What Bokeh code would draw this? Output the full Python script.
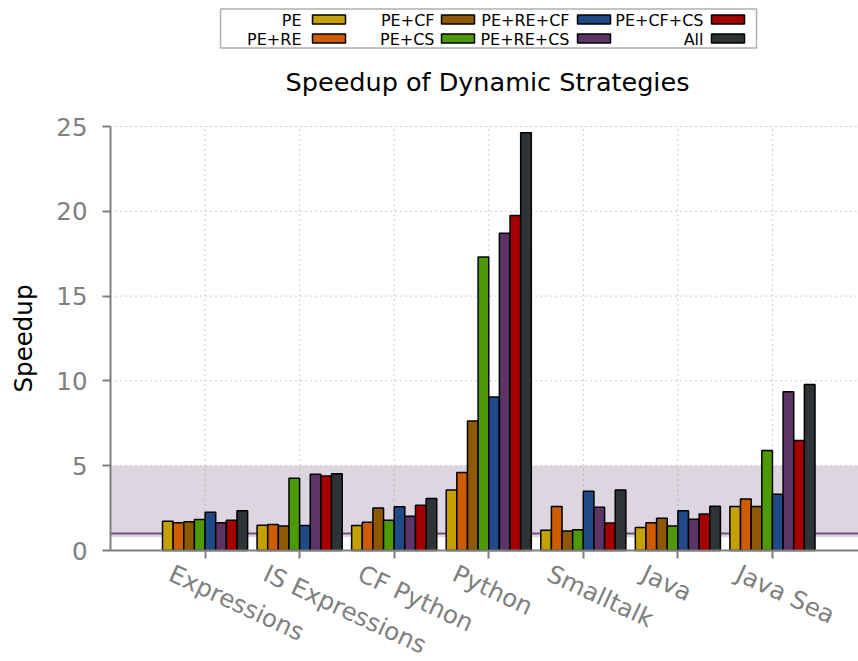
from bokeh.plotting import figure
from bokeh.models import Range1d, FixedTicker, ColumnDataSource
from bokeh.embed import file_html
from bokeh.resources import INLINE
from bokeh.core.properties import value

# ---------------- data ----------------
categories = ["Expressions", "IS Expressions", "CF Python", "Python",
              "Smalltalk", "Java", "Java Sea"]
series_names = ["PE", "PE+RE", "PE+CF", "PE+CS", "PE+RE+CF", "PE+RE+CS",
                "PE+CF+CS", "All"]
series_colors = ["#c4a000", "#ce5c00", "#8f5902", "#4e9a06", "#204a87",
                 "#5c3566", "#a40000", "#2e3436"]
pe        = [1.73, 1.49, 1.47, 3.56, 1.19, 1.35, 2.59]
pe_re     = [1.63, 1.53, 1.67, 4.60, 2.59, 1.64, 3.04]
pe_cf     = [1.69, 1.45, 2.50, 7.64, 1.15, 1.90, 2.59]
pe_cs     = [1.83, 4.26, 1.79, 17.31, 1.23, 1.45, 5.89]
pe_re_cf  = [2.26, 1.47, 2.58, 9.05, 3.49, 2.35, 3.32]
pe_re_cs  = [1.63, 4.50, 2.02, 18.70, 2.55, 1.84, 9.36]
pe_cf_cs  = [1.79, 4.40, 2.67, 19.75, 1.62, 2.15, 6.48]
all_      = [2.34, 4.52, 3.07, 24.63, 3.57, 2.61, 9.79]
series_values = [pe, pe_re, pe_cf, pe_cs, pe_re_cf, pe_re_cs, pe_cf_cs, all_]
y_ticks = [0, 5, 10, 15, 20, 25]
band_low, band_high, baseline = 0.78, 5.0, 1.0
title_text = "Speedup of Dynamic Strategies"
y_label = "Speedup"

FONT = "DejaVu Sans"
GREY = "#808080"

# ---------------- geometry (page pixels) ----------------
W, H = 858, 661
AXIS_PX = 110              # pixel column of the y axis (x = -1)
Y0_PX, Y25_PX = 550, 126   # pixel rows of y=0 and y=25
X_AXIS, X_END = -1, 6.91
PPU_X = (W - AXIS_PX) / (X_END - X_AXIS)
PPU_Y = (Y0_PX - Y25_PX) / 25.0
X_START = X_AXIS - AXIS_PX / PPU_X

def py(page_y):
    return (Y0_PX - page_y) / PPU_Y

def px(page_x):
    return X_START + page_x / PPU_X

p = figure(width=W, height=H, x_range=Range1d(X_START, X_END),
           y_range=Range1d(py(H), py(0)),
           output_backend="svg", toolbar_location=None,
           min_border_left=0, min_border_right=0, min_border_top=0,
           min_border_bottom=0)
p.outline_line_color = None
p.xgrid.visible = False
p.ygrid.visible = False

# band and reference line (from the axis to the right edge)
p.quad(left=[X_AXIS], right=[X_END], bottom=[band_low], top=[band_high],
       fill_color="#ddd6e1", line_color=None)
p.segment(x0=[X_AXIS], x1=[X_END], y0=[baseline], y1=[baseline],
          line_color="#75507b", line_width=2)

# dotted grid at the tick positions, limited to the plotting box
ncat = len(categories)
p.segment(x0=list(range(ncat)), x1=list(range(ncat)), y0=[0] * ncat,
          y1=[y_ticks[-1]] * ncat, line_color="#999999", line_dash="1 4",
          line_width=1)
gy = y_ticks[1:]
p.segment(x0=[X_AXIS] * len(gy), x1=[X_END] * len(gy), y0=gy, y1=gy,
          line_color="#999999", line_dash="1 4", line_width=1)

# bars
n = len(series_names)
bw = 0.9 / n
for k in range(n):
    xs = [g - 0.45 + (k + 0.5) * bw for g in range(ncat)]
    src = ColumnDataSource(dict(x=xs, top=series_values[k]))
    p.vbar(x="x", top="top", bottom=0, width=bw, source=src,
           fill_color=series_colors[k], line_color="black", line_width=1.5)

# axes
p.yaxis.fixed_location = X_AXIS
p.yaxis.ticker = FixedTicker(ticks=y_ticks)
p.yaxis.bounds = (0, 25)
p.yaxis.major_label_text_font = FONT
p.yaxis.major_label_text_font_size = "24.5px"
p.yaxis.major_label_text_color = GREY
p.yaxis.major_label_standoff = 15
p.yaxis.minor_tick_line_color = None
p.yaxis.major_tick_in = 0
p.yaxis.major_tick_out = 8

p.xaxis.fixed_location = 0
p.xaxis.bounds = (X_AXIS, X_END)
p.xaxis.ticker = FixedTicker(ticks=list(range(ncat)))
p.xaxis.major_label_overrides = {i: "" for i in range(ncat)}
p.xaxis.major_label_text_font_size = "1px"
p.xaxis.minor_tick_line_color = None
p.xaxis.major_tick_in = 0
p.xaxis.major_tick_out = 8

for ax in (p.xaxis, p.yaxis):
    ax.axis_line_color = GREY
    ax.axis_line_width = 2
    ax.major_tick_line_color = GREY
    ax.major_tick_line_width = 2

# y axis title
p.text(x=[px(23)], y=[py(338)], text=[y_label], angle=90, angle_units="deg",
       text_align="center", text_baseline="middle", text_font=value(FONT),
       text_font_size="24.5px", text_color="black")

# rotated category labels under the axis
lab_src = ColumnDataSource(dict(x=list(range(ncat)),
                                y=[py(Y0_PX + 21.5)] * ncat,
                                text=categories))
p.text(x="x", y="y", text="text", source=lab_src, x_offset=-34.5,
       angle=-25, angle_units="deg", text_align="left",
       text_baseline="alphabetic", text_font=value(FONT),
       text_font_size="24.5px", text_color=GREY)

# title
p.text(x=[px(487)], y=[py(81)], text=[title_text], text_align="center",
       text_baseline="middle", text_font=value(FONT),
       text_font_size="25.5px", text_color="black")

# legend (two rows, label left of swatch)
p.quad(left=[px(220)], right=[px(756)], top=[py(8.5)], bottom=[py(47.5)],
       fill_color="white", line_color="#b0b0b0", line_width=1.5)
sw_left = [312, 441, 577, 711]
lab_right = [301, 434, 569, 703]
rows_y = [19, 38]
sx0, sx1, sy0, sy1, scol, tx, ty, tt = [], [], [], [], [], [], [], []
for k, name in enumerate(series_names):
    c, r = k // 2, k % 2
    sx0.append(px(sw_left[c])); sx1.append(px(sw_left[c] + 33))
    sy0.append(py(rows_y[r] - 4.5)); sy1.append(py(rows_y[r] + 4.5))
    scol.append(series_colors[k])
    tx.append(px(lab_right[c])); ty.append(py(rows_y[r] + 1)); tt.append(name)
p.quad(left=sx0, right=sx1, top=sy0, bottom=sy1, fill_color=scol,
       line_color="black", line_width=1.5)
p.text(x=tx, y=ty, text=tt, text_align="right", text_baseline="middle",
       text_font=value(FONT), text_font_size="16px", text_color="black")

open("out.html", "w").write(file_html(p, INLINE))
